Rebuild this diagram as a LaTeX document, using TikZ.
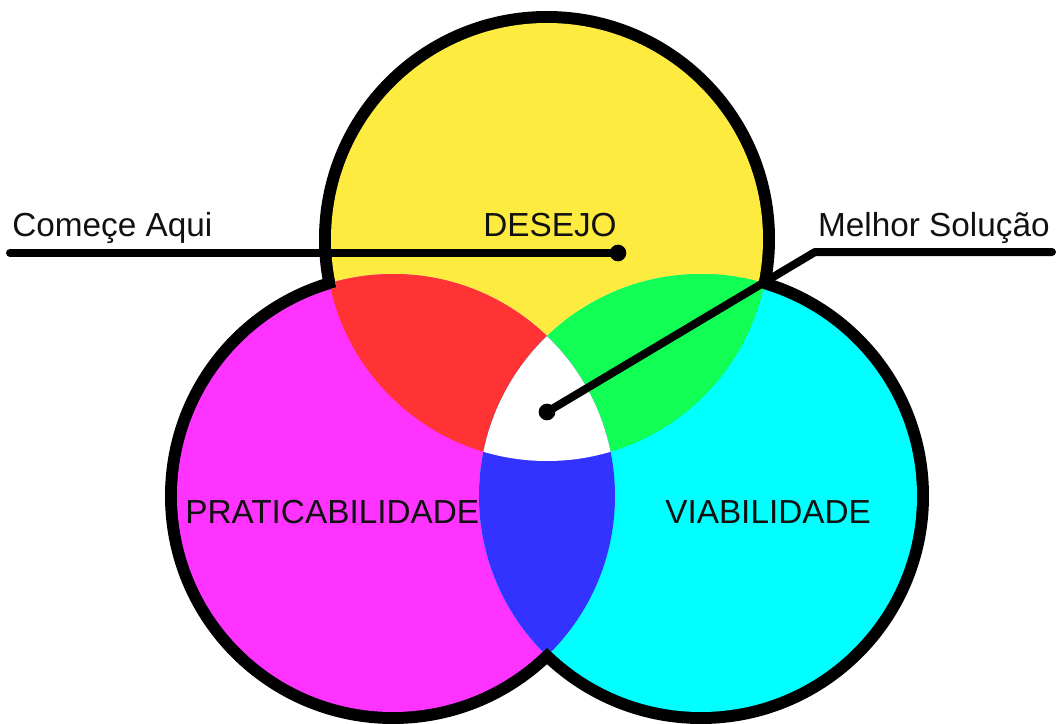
\documentclass[tikz,border=0pt]{standalone}
\usepackage{fontspec}
\setmainfont{Liberation Sans}
\definecolor{ycol}{HTML}{FEEB3F}
\definecolor{mcol}{HTML}{FF33FF}
\definecolor{ccol}{HTML}{00FFFF}
\definecolor{rcol}{HTML}{FF3333}
\definecolor{gcol}{HTML}{11FF55}
\definecolor{bcol}{HTML}{3333FF}
\definecolor{tcol}{HTML}{111111}
\tikzset{
  lbl/.style={inner sep=0pt, text=tcol, font=\fontsize{25pt}{30pt}\selectfont},
  conn/.style={line width=6pt, line cap=round, line join=round, black},
  dotnode/.style={circle, fill=black, minimum size=12.5pt, inner sep=0pt}
}
\begin{document}
\begin{tikzpicture}[x=0.75pt,y=-0.75pt]
\useasboundingbox (0,0) rectangle (1058,724);
\coordinate (Y) at (547,239);
\coordinate (M) at (393,496);
\coordinate (C) at (701,496);
% black outline band
\fill[black] (Y) circle (228) (M) circle (228) (C) circle (228);
\begin{scope}
  \clip (Y) circle (216) (M) circle (216) (C) circle (216);
  \fill[ycol] (Y) circle (222);
  \fill[mcol] (M) circle (222);
  \fill[ccol] (C) circle (222);
  \begin{scope}
    \clip (Y) circle (222);
    \fill[rcol] (M) circle (222);
    \fill[gcol] (C) circle (222);
  \end{scope}
  \begin{scope}
    \clip (M) circle (222);
    \fill[bcol] (C) circle (222);
  \end{scope}
  \begin{scope}
    \clip (Y) circle (222);
    \clip (M) circle (222);
    \fill[white] (C) circle (222);
  \end{scope}
\end{scope}
% labels
\node[lbl, anchor=base west] (comece) at (12,236) {Começe Aqui};
\node[lbl, anchor=base west] (desejo) at (483,236) {DESEJO};
\node[lbl, anchor=base east] (melhor) at (1050,236) {Melhor Solução};
\node[lbl, anchor=base west] (prat) at (185,523) {PRATICABILIDADE};
\node[lbl, anchor=base west] (viab) at (665,523) {VIABILIDADE};
% connectors
\coordinate (s1) at (10,253);
\node[dotnode] (d1) at (618,253) {};
\draw[conn] (s1) -- (d1.center);
\coordinate (s2) at (1052,252);
\coordinate (k2) at (815,252);
\node[dotnode] (d2) at (547,412) {};
\draw[conn] (s2) -- (k2) -- (d2.center);
\end{tikzpicture}
\end{document}
